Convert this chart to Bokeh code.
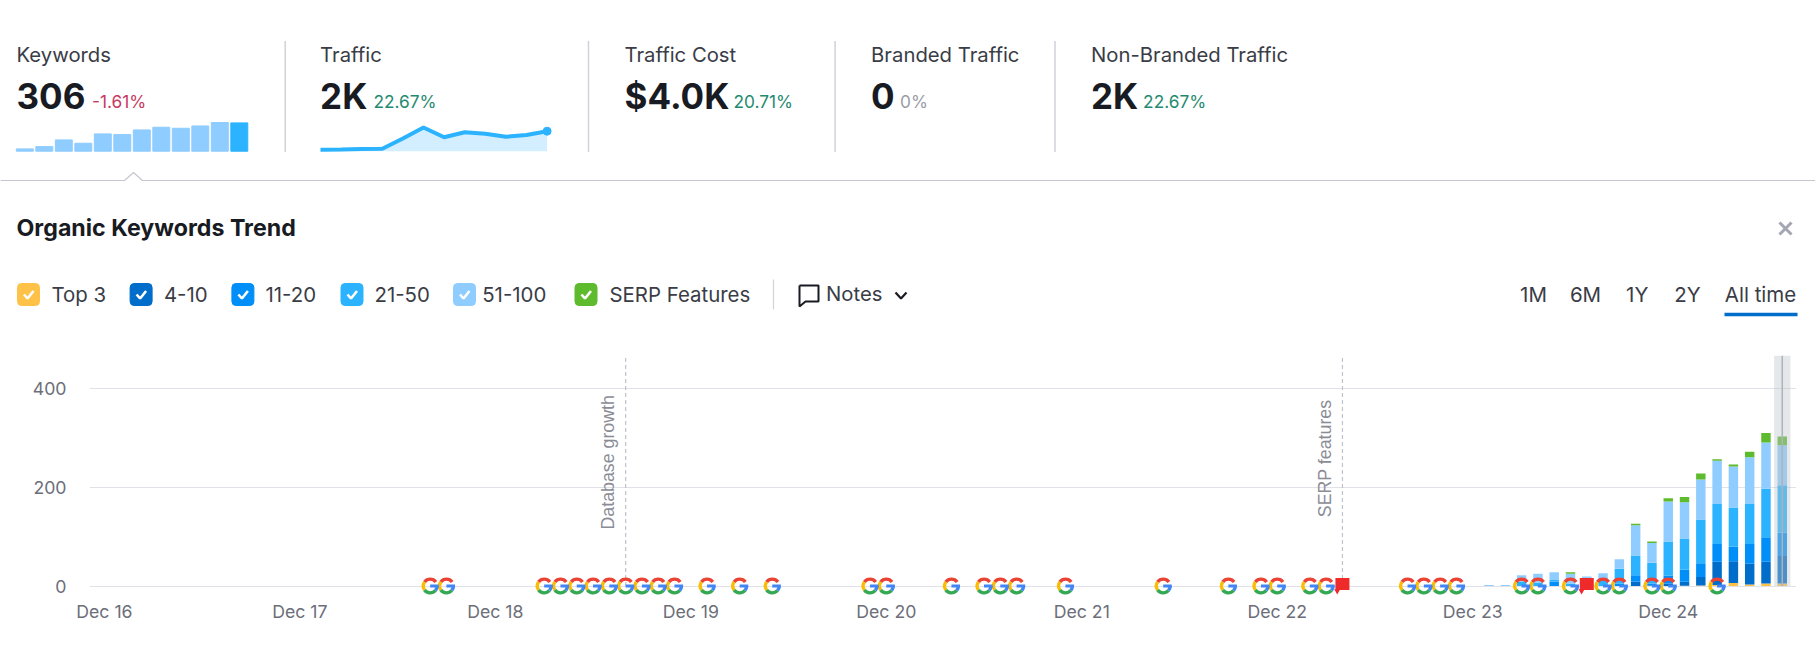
import numpy as np
from bokeh.plotting import figure
from bokeh.layouts import column
from bokeh.models import Range1d, FixedTicker, ColumnDataSource
from bokeh.core.properties import value
from bokeh.embed import file_html
from bokeh.resources import INLINE

# ---------- data ----------
keyword_spark = [25, 50, 122, 86, 187, 180, 230, 259, 248, 273, 310, 306]
traffic_spark = [140, 170, 220, 240, 1270, 2370, 1400, 1900, 1740, 1440, 1620, 2000]

bar_months = list(range(85, 104))   # months since Dec 16
top3      = [0, 0, 0, 0, 0, 0, 0, 0, 0, 0, 0, 0, 0.5, 1, 2, 6, 3, 5, 5]
kw_4_10   = [0, 0, 0, 0, 0, 0, 0, 0, 0, 9, 1, 5, 8, 17, 47, 44, 42, 44, 56]
kw_11_20  = [0, 0, 0, 0, 9, 0, 0, 0, 5, 13, 4, 16, 25, 28, 36, 30, 40, 50, 47]
kw_21_50  = [0, 0, 8, 7, 3, 5, 6, 15, 30, 40, 42, 69, 63, 89, 81, 79, 81, 98, 96]
kw_51_100 = [2, 2, 14, 18, 16, 20, 13, 11, 19, 61, 40, 81, 73, 81, 88, 83, 95, 94, 81]
serp      = [0, 0, 0, 0, 0, 3, 0, 0, 0, 3, 3, 7, 11, 12, 3, 4, 11, 19, 18]

google_updates = [20, 21, 27, 28, 29, 30, 31, 32, 33, 34, 35, 37, 39, 41, 47, 48, 52, 54, 55, 56,
                  59, 65, 69, 71, 72, 74, 75, 80, 81, 82, 83, 87, 88, 90, 92, 93, 95, 96, 99]
red_flags = [76, 91]
notes_at = [32, 76]
note_texts = ["Database growth", "SERP features"]

tick_months = [0, 12, 24, 36, 48, 60, 72, 84, 96]
tick_labels = ["Dec 16", "Dec 17", "Dec 18", "Dec 19", "Dec 20", "Dec 21", "Dec 22", "Dec 23", "Dec 24"]
y_ticks = [0, 200, 400]

metric_labels = ["Keywords", "Traffic", "Traffic Cost", "Branded Traffic", "Non-Branded Traffic"]
metric_values = ["306", "2K", "$4.0K", "0", "2K"]
metric_deltas = ["-1.61%", "22.67%", "20.71%", "0%", "22.67%"]
legend_names = ["Top 3", "4-10", "11-20", "21-50", "51-100", "SERP Features"]
period_names = ["1M", "6M", "1Y", "2Y", "All time"]

# ---------- styles ----------
C_TOP3, C_4, C_11, C_21, C_51, C_SERP = "#FFC248", "#006DCA", "#008FF8", "#2BB3FF", "#8FCCFF", "#5FBB2E"
INK, GREY = "#191B23", "#6C6E79"
FONT = value("Inter")
M_PX, M_0 = 16.29, 103.9
W, H_TOP, H_BOT = 1815, 340, 318

# ---------- header ----------
top = figure(width=W, height=H_TOP, x_range=Range1d(0, W), y_range=Range1d(H_TOP, 0),
             x_axis_location=None, y_axis_location=None, toolbar_location=None, output_backend="svg",
             min_border=0, outline_line_color=None, background_fill_color="white", border_fill_color="white",
             frame_align=False)
top.grid.visible = False

def rng(px0, step):
    return Range1d((0 - px0) / step, (W - px0) / step)

def vrng(px_base, px_per):
    return Range1d((px_base - H_TOP) / px_per, px_base / px_per)

top.extra_x_ranges = {"kw": rng(24.3, 19.5), "tr": rng(320, 20.6)}
top.extra_y_ranges = {"kw": vrng(150.7, 0.0925), "tr": vrng(150.7, 0.01)}

kw_colors = [C_51] * (len(keyword_spark) - 1) + [C_21]
top.vbar(x=list(range(len(keyword_spark))), top=keyword_spark, width=0.87, color=kw_colors,
         x_range_name="kw", y_range_name="kw")
tr_x = list(range(len(traffic_spark)))
top.varea(x=tr_x, y1=[0] * len(tr_x), y2=traffic_spark, color="#D3EEFF", x_range_name="tr", y_range_name="tr")
top.line(tr_x, traffic_spark, line_color=C_21, line_width=4, x_range_name="tr", y_range_name="tr")
top.scatter([tr_x[-1]], [traffic_spark[-1]], size=8, color=C_21, x_range_name="tr", y_range_name="tr")

label_x = [16, 319.6, 624, 870.6, 1090.5]
delta_x = [91.6, 373, 733, 899.5, 1142.6]
delta_c = ["#C73A60", "#1F8A70", "#1F8A70", "#9A9CA6", "#1F8A70"]
top.text(label_x, [53.5] * 5, text=metric_labels, text_font=FONT, text_font_size="20.3px", text_color="#3A3C46",
         text_baseline="middle")
top.text(label_x, [95] * 5, text=metric_values, text_font=FONT, text_font_size="35px", text_font_style="bold",
         text_color=INK, text_baseline="middle")
top.text(delta_x, [101] * 5, text=metric_deltas, text_font=FONT, text_font_size="17.3px", text_color=delta_c,
         text_baseline="middle")
sep_x = [284.7, 588, 834.6, 1054.5]
top.segment(sep_x, [40.5] * 4, sep_x, [151.6] * 4, line_color="#D0D2D9", line_width=1.5)
top.line([0, 124, 133, 142, W], [180, 180, 172, 180, 180], line_color="#C4C7CF", line_width=1.2)

top.text([16], [227], text=["Organic Keywords Trend"], text_font=FONT, text_font_size="23.2px", text_font_style="bold",
         text_color=INK, text_baseline="middle")
top.scatter([1785], [228], marker="x", size=17, line_color="#A4A6B3", line_width=3)

box_x = [28, 140.6, 242.4, 351.5, 464, 585.5]
box_c = [C_TOP3, C_4, C_11, C_21, C_51, C_SERP]
leg_x = [51, 163.4, 265, 374, 481.7, 609]
top.quad(left=[b - 11 for b in box_x], right=[b + 11 for b in box_x], top=[283] * 6, bottom=[305] * 6,
         color=box_c, border_radius=4)
top.multi_line([[b - 4.5, b - 1, b + 5] for b in box_x], [[294, 298, 290.5]] * 6, line_color="white", line_width=2.6)
top.text(leg_x, [293.5] * 6, text=legend_names, text_font=FONT, text_font_size="20.4px", text_color="#3A3C46",
         text_baseline="middle")
top.segment([773], [279], [773], [309], line_color="#D0D2D9", line_width=1.2)
top.line([799, 818, 818, 805, 799, 799], [285, 285, 301, 301, 306, 285], line_color=INK, line_width=2)
top.text([825.5], [292.5], text=["Notes"], text_font=FONT, text_font_size="20.3px", text_color="#3A3C46",
         text_baseline="middle")
top.line([895, 900.5, 906], [292, 298, 292], line_color=INK, line_width=2.2)

per_x = [1533, 1585, 1636.7, 1687, 1760]
top.text(per_x, [294] * 5, text=period_names, text_font=FONT, text_font_size="20.5px", text_color="#3A3C46",
         text_align="center", text_baseline="middle")
top.segment([1724], [314], [1797], [314], line_color=C_4, line_width=3.5)

# ---------- main chart ----------
PX_PER = 0.4935
FRAME_L, FRAME_R, FRAME_T, FRAME_B = 89, 1796, 355, 595
main = figure(width=W, height=H_BOT,
              x_range=Range1d((FRAME_L - M_0) / M_PX, (FRAME_R - M_0) / M_PX),
              y_range=Range1d((585.5 - FRAME_B) / PX_PER, (585.5 - FRAME_T) / PX_PER),
              toolbar_location=None, output_backend="svg", outline_line_color=None,
              min_border_left=FRAME_L, min_border_right=W - FRAME_R,
              min_border_top=FRAME_T - H_TOP, min_border_bottom=(H_TOP + H_BOT) - FRAME_B,
              background_fill_color="white", border_fill_color="white", frame_align=False)

main.xgrid.visible = False
main.ygrid.ticker = FixedTicker(ticks=y_ticks)
main.ygrid.grid_line_color = "#E0E1E9"
main.ygrid.grid_line_width = 1.2

for ax in (main.xaxis[0], main.yaxis[0]):
    ax.axis_line_color = None
    ax.major_tick_line_color = None
    ax.minor_tick_line_color = None
    ax.major_label_text_font = "Inter"
    ax.major_label_text_font_size = "17.7px"
    ax.major_label_text_color = GREY
main.xaxis[0].ticker = FixedTicker(ticks=tick_months)
main.xaxis[0].major_label_overrides = dict(zip(tick_months, tick_labels))
main.xaxis[0].major_label_standoff = -1
main.yaxis[0].ticker = FixedTicker(ticks=y_ticks)
main.yaxis[0].major_label_standoff = 17

# vertical notes
top_val = (585.5 - FRAME_T) / PX_PER
main.segment(notes_at, [0, 0], notes_at, [top_val, top_val], line_color="#BFC2CA", line_width=1.2, line_dash="4 3")
main.text([m - 1.1 for m in notes_at], [(585.5 - 529) / PX_PER, (585.5 - 516.7) / PX_PER], text=note_texts,
          angle=np.pi / 2, text_font=value("Liberation Sans"), text_font_size="17.8px", text_color="#8B8D96",
          text_baseline="middle")

# bars
src = ColumnDataSource(dict(m=bar_months, top3=top3, a=kw_4_10, b=kw_11_20, c=kw_21_50, d=kw_51_100, e=serp))
main.vbar_stack(["top3", "a", "b", "c", "d", "e"], x="m", width=0.58, source=src,
                color=[C_TOP3, C_4, C_11, C_21, C_51, C_SERP], line_color=None)

# selection band on the latest month
last = bar_months[-1]
main.vbar(x=[last], bottom=[0], top=[top_val], width=1, color="#BCC6CB", alpha=0.4, line_color=None)
main.segment([last], [0], [last], [top_val], line_color="#AEB3B7", line_width=1.5)

# Google update markers
gx = google_updates
n = len(gx)
for a0, a1, col in [(35, 145, "#EA4335"), (145, 215, "#FBBC05"), (215, 320, "#34A853"), (320, 360, "#4285F4")]:
    main.annular_wedge(gx, [0] * n, inner_radius=5.2, outer_radius=8.6, start_angle=np.radians(a0), end_angle=np.radians(a1),
                       inner_radius_units="screen", outer_radius_units="screen", color=col, line_color=None)
main.rect([g + 0.26 for g in gx], [0] * n, width=8.6, height=3.2, width_units="screen", height_units="screen",
          color="#4285F4", line_color=None)

# red flags
main.rect(red_flags, [4] * 2, width=14, height=12, width_units="screen", height_units="screen", color="#EE2A2A",
          line_color=None)
main.scatter([f - 0.32 for f in red_flags], [-10] * 2, marker="inverted_triangle", size=6, color="#EE2A2A", line_color=None)

open("out.html", "w").write(file_html(column(top, main, spacing=0), INLINE))
